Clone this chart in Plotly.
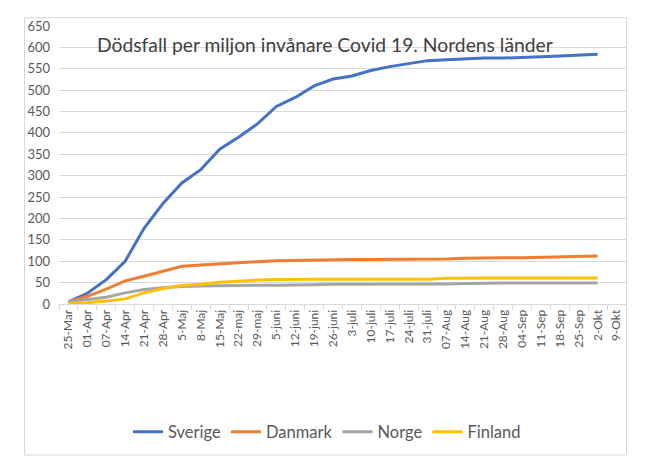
import plotly.graph_objects as go

dates = ["25-Mar", "01-Apr", "07-Apr", "14-Apr", "21-Apr", "28-Apr", "5-Maj", "8-Maj",
         "15-Maj", "22-maj", "29-maj", "5-juni", "12-juni", "19-juni", "26-juni", "3-juli",
         "10-juli", "17-juli", "24-juli", "31-juli", "07-Aug", "14-Aug", "21-Aug", "28-Aug",
         "04-Sep", "11-Sep", "18-Sep", "25-Sep", "2-Okt", "9-Okt"]

sverige = [5, 25, 57, 100, 177, 235, 283, 314, 362, 390, 421, 462, 483, 510, 526, 533,
           546, 555, 562, 569, 571, 573, 575, 575, 576, 578, 580, 582, 584, None]
danmark = [5, 18, 35, 54, 65, 77, 88, 91, 94, 97, 99, 101, 102, 103, 103, 104,
           104, 104, 104, 104, 105, 107, 108, 108, 108, 109, 111, 112, 112, None]
norge = [5, 11, 16, 26, 34, 38, 41, 42, 43, 44, 44, 44, 44, 45, 46, 46,
         46, 46, 47, 47, 47, 48, 49, 49, 49, 49, 49, 49, 49, None]
finland = [2, 3, 7, 12, 26, 36, 43, 46, 51, 54, 56, 57, 58, 58, 58, 58,
           58, 58, 58, 58, 60, 61, 61, 61, 61, 61, 61, 61, 61, None]

series = [("Sverige", sverige, "#4472C4"), ("Danmark", danmark, "#ED7D31"),
          ("Norge", norge, "#A5A5A5"), ("Finland", finland, "#FFC000")]

title_text = "Dödsfall per miljon invånare Covid 19. Nordens länder"

FONT = "Lato"
W, H = 649, 466
L, R, T, B = 59, 23, 26, 162
PW, PH = W - L - R, H - T - B

def px_x(x):
    return (x - L) / PW

def px_y(y):
    return (H - B - y) / PH

fig = go.Figure()
for name, vals, col in series:
    fig.add_trace(go.Scatter(x=dates, y=vals, mode="lines", name=name,
                             line=dict(color=col, width=3), connectgaps=False))

fig.update_layout(
    width=W, height=H,
    margin=dict(l=L, r=R, t=T, b=B),
    paper_bgcolor="white", plot_bgcolor="white",
    font=dict(family=FONT, color="#595959"),
    showlegend=True,
    legend=dict(orientation="h", x=px_x(327), xanchor="center", y=px_y(432), yanchor="middle",
                font=dict(size=16.5, color="#595959"), itemwidth=30, tracegroupgap=0),
    annotations=[dict(text=title_text, xref="paper", yref="paper", x=px_x(95), y=px_y(44),
                      xanchor="left", yanchor="middle", showarrow=False,
                      font=dict(size=19.3, color="#404040", family=FONT))],
    shapes=[dict(type="rect", xref="paper", yref="paper",
                 x0=px_x(24.5), x1=px_x(626.5), y0=px_y(455), y1=px_y(17.7),
                 line=dict(color="#d9d9d9", width=1), fillcolor="rgba(0,0,0,0)", layer="below")],
)

fig.update_xaxes(type="category", categoryorder="array", categoryarray=dates,
                 range=[-0.5, len(dates) - 0.5],
                 tickangle=-90, tickson="boundaries", ticks="outside", ticklen=5,
                 tickcolor="#d9d9d9", showline=True, linecolor="#d9d9d9", linewidth=1,
                 showgrid=False, tickfont=dict(size=12, color="#595959"))
fig.update_yaxes(range=[0, 650], dtick=50, showgrid=True, gridcolor="#d9d9d9", gridwidth=1,
                 showline=False, zeroline=False, ticks="", ticklabelstandoff=8,
                 tickfont=dict(size=13, color="#595959"))

fig.write_html("out.html")
